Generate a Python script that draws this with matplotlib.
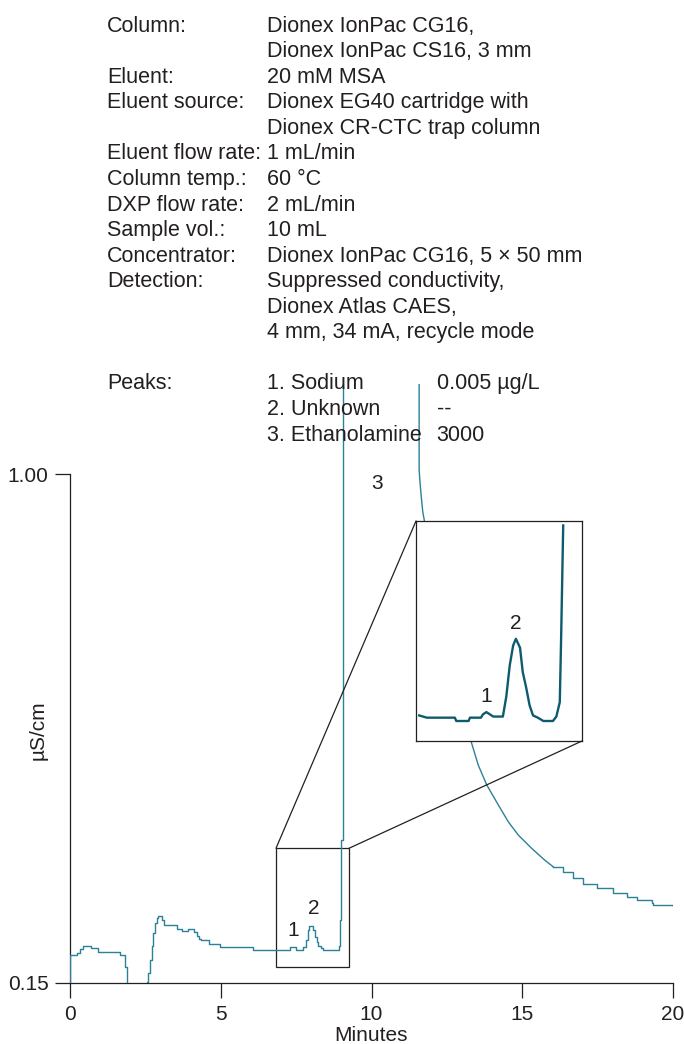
import matplotlib
matplotlib.use("Agg")
import matplotlib.pyplot as plt
from matplotlib.patches import Rectangle, ConnectionPatch

plt.rcParams['font.family'] = ['Liberation Sans', 'DejaVu Sans']

# method conditions (label, value) one row per printed line
cond_labels = ["Column:", "", "Eluent:", "Eluent source:", "", "Eluent flow rate:",
               "Column temp.:", "DXP flow rate:", "Sample vol.:", "Concentrator:",
               "Detection:", "", "", "", "Peaks:", "", ""]
cond_values = ["Dionex IonPac CG16,", "Dionex IonPac CS16, 3 mm", "20 mM MSA",
               "Dionex EG40 cartridge with", "Dionex CR-CTC trap column", "1 mL/min",
               "60 °C", "2 mL/min", "10 mL", "Dionex IonPac CG16, 5 × 50 mm",
               "Suppressed conductivity,", "Dionex Atlas CAES,",
               "4 mm, 34 mA, recycle mode", "", "1. Sodium", "2. Unknown", "3. Ethanolamine"]
peak_amounts = ["0.005 µg/L", "--", "3000"]

# main chromatogram up to the top of peak 3 (minutes, uS/cm), stepped
time_min = [0.00, 0.00, 0.22, 0.33, 0.44, 0.70, 0.94, 1.66, 1.84, 1.88, 1.90,
            2.54, 2.60, 2.65, 2.71, 2.76, 2.82, 2.87, 2.93, 3.06, 3.12, 3.54,
            3.72, 3.90, 4.12, 4.20, 4.27, 4.33, 4.60, 4.96, 6.08, 7.30, 7.48,
            7.72, 7.82, 7.88, 7.94, 8.06, 8.12, 8.18, 8.24, 8.32, 8.40, 8.92,
            8.97, 9.00, 9.04, 11.58]
signal = [0.10, 0.197, 0.200, 0.206, 0.212, 0.208, 0.202, 0.197, 0.177, 0.152, 0.10,
          0.152, 0.167, 0.188, 0.211, 0.233, 0.250, 0.258, 0.262, 0.255, 0.247, 0.241,
          0.237, 0.241, 0.236, 0.229, 0.223, 0.221, 0.215, 0.210, 0.205, 0.210, 0.205,
          0.210, 0.222, 0.239, 0.246, 0.239, 0.227, 0.219, 0.212, 0.208, 0.205, 0.212,
          0.255, 0.389, 1.40, 1.40]

# falling side of peak 3 (fine steps, drawn as a line)
tail_t = [11.58, 11.58, 11.61, 11.66, 11.70, 11.75, 11.94, 12.27, 12.60, 12.94,
          13.30, 13.54, 13.82, 14.21, 14.54, 14.87, 15.31, 15.75, 16.03]
tail_v = [1.40, 1.007, 0.985, 0.957, 0.937, 0.923, 0.876, 0.796, 0.714, 0.633,
          0.554, 0.514, 0.481, 0.447, 0.419, 0.397, 0.375, 0.355, 0.344]

# late baseline (coarse steps)
late_t = [16.03, 16.36, 16.69, 17.03, 17.47, 18.02, 18.46, 18.80, 19.29, 19.35, 20.00]
late_v = [0.344, 0.336, 0.325, 0.316, 0.308, 0.300, 0.294, 0.289, 0.284, 0.280, 0.279]

# zoomed inset trace
inset_t = [6.88, 6.99, 7.40, 7.42, 7.60, 7.62, 7.78, 7.81, 7.86, 7.91, 7.96, 8.10,
           8.15, 8.20, 8.25, 8.29, 8.35, 8.39, 8.44, 8.49, 8.54, 8.61, 8.69, 8.83,
           8.88, 8.93, 8.95, 8.98]
inset_v = [0.200, 0.198, 0.198, 0.195, 0.195, 0.198, 0.198, 0.201, 0.203, 0.201, 0.199,
           0.199, 0.217, 0.245, 0.263, 0.269, 0.261, 0.239, 0.225, 0.209, 0.200, 0.198,
           0.195, 0.195, 0.199, 0.212, 0.271, 0.371]

peak_ids = ["1", "2", "3"]
peak_t = [7.39, 8.07, 10.17]
peak_v = [0.2385, 0.275, 0.9845]
inset_peak_t = [7.85, 8.29]
inset_peak_v = [0.2166, 0.283]

ink = '#231f20'
trace = '#2b8198'

fig = plt.figure(figsize=(6.84, 10.44), dpi=100)

for i, (lab, val) in enumerate(zip(cond_labels, cond_values)):
    y = 1 - (31.7 + i * 25.55) / 1044
    fig.text(107 / 684, y, lab, fontsize=15.5, color=ink, va='baseline')
    fig.text(266.7 / 684, y, val, fontsize=15.5, color=ink, va='baseline')
for j, amt in enumerate(peak_amounts):
    y = 1 - (31.7 + (14 + j) * 25.55) / 1044
    fig.text(436.7 / 684, y, amt, fontsize=15.5, color=ink, va='baseline')

ax = fig.add_axes([70 / 684, 61 / 1044, 603 / 684, 598.8 / 1044])
ax.plot(time_min, signal, color=trace, lw=1.0, drawstyle='steps-post', zorder=3)
ax.plot(tail_t, tail_v, color=trace, lw=1.0, zorder=3)
ax.plot(late_t, late_v, color=trace, lw=1.0, drawstyle='steps-post', zorder=3)
ax.set_xlim(0, 20)
ax.set_ylim(0.15, 1.15)
for s in ['top', 'right']:
    ax.spines[s].set_visible(False)
for s in ['left', 'bottom']:
    ax.spines[s].set_color(ink)
    ax.spines[s].set_linewidth(0.9)
ax.spines['left'].set_bounds(0.15, 1.0)
ax.set_xticks([0, 5, 10, 15, 20])
ax.set_yticks([0.15, 1.0])
ax.set_yticklabels(["0.15", "1.00"])
ax.tick_params(direction='out', length=10.5, width=0.9, color=ink,
               labelcolor=ink, labelsize=15, pad=5)
ax.set_xlabel("Minutes", fontsize=15, color=ink, labelpad=2)
ax.set_ylabel("µS/cm", fontsize=15, color=ink)
ax.yaxis.set_label_coords(-0.037, 0.4225)

for pid, t, v in zip(peak_ids, peak_t, peak_v):
    ax.text(t, v, pid, fontsize=15, color=ink, ha='center', va='center')

x0, x1, y0, y1 = 6.833, 9.254, 0.177, 0.375
ax.add_patch(Rectangle((x0, y0), x1 - x0, y1 - y0, fill=False, ec=ink, lw=0.9, zorder=2))

axin = fig.add_axes([416 / 684, 303 / 1044, 166 / 684, 220 / 1044])
axin.plot(inset_t, inset_v, color='#0e5a6e', lw=1.7)
axin.set_xlim(x0, x1)
axin.set_ylim(y0, y1)
axin.set_xticks([])
axin.set_yticks([])
for s in axin.spines.values():
    s.set_color(ink)
    s.set_linewidth(0.9)
for pid, t, v in zip(peak_ids[:2], inset_peak_t, inset_peak_v):
    axin.text(t, v, pid, fontsize=15, color=ink, ha='center', va='center')

for xyA, xyB in [((x0, y1), (0, 1)), ((x1, y1), (1, 0))]:
    con = ConnectionPatch(xyA=xyA, coordsA=ax.transData, xyB=xyB,
                          coordsB=axin.transAxes, color=ink, lw=0.9)
    fig.add_artist(con)

fig.savefig("out.png", dpi=100)
